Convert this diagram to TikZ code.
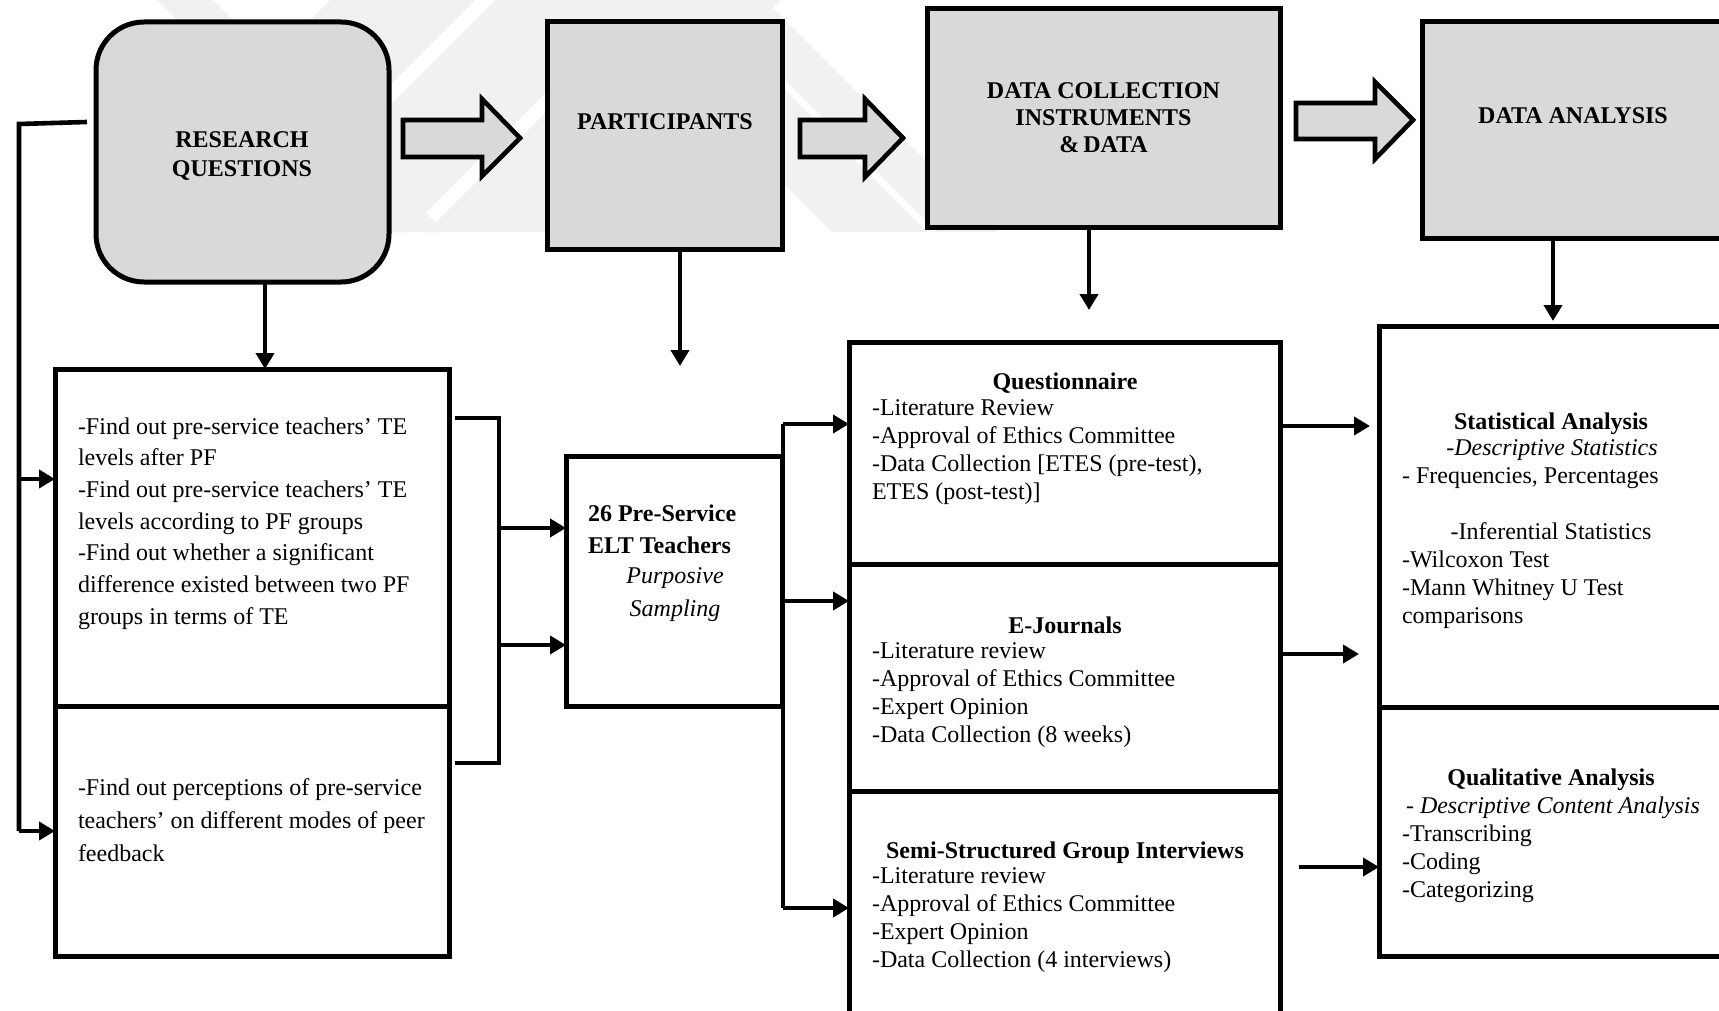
\documentclass[tikz,border=0pt]{standalone}
\usepackage{fontspec}
\setmainfont{Liberation Serif}
\usetikzlibrary{arrows.meta}
\definecolor{boxgray}{HTML}{D9D9D9}
\definecolor{wmgray}{HTML}{F1F1F1}
\begin{document}
\begin{tikzpicture}[x=0.5pt,y=-0.5pt]
\tikzset{
  bx/.style 2 args={draw, line width=2.5pt, inner sep=0pt, outer sep=0pt, anchor=north west,
                    minimum width=#1*0.5pt, minimum height=#2*0.5pt},
  conn/.style={line width=2.3pt},
  arr/.style={line width=2.3pt, -{Triangle[length=8pt,width=9pt]}},
  tx/.style={inner sep=0pt, outer sep=0pt, align=left, font=\fontsize{12}{14}\selectfont},
  hd/.style={inner sep=0pt, outer sep=0pt, align=center, font=\fontsize{12}{14}\selectfont\bfseries},
  blk/.style={draw, line width=2.3pt, fill=boxgray, line join=miter},
  wm/.style={fill=wmgray},
}
\useasboundingbox (0,0) rectangle (1719,1011);
\clip (0,0) rectangle (1719,1011);
\fill[white] (0,0) rectangle (1719,1011);

% faint watermark
\begin{scope}
\clip (150,0) rectangle (1010,232);
\fill[wm] (157,0) -- (213,0) -- (445,232) -- (389,232) -- cycle;
\fill[wm] (330,0) -- (475,0) -- (243,232) -- (98,232) -- cycle;
\fill[wm] (495,0) -- (638,0) -- (406,232) -- (263,232) -- cycle;
\fill[wm] (658,0) -- (780,0) -- (548,232) -- (426,232) -- cycle;
\fill[wm] (600,0) -- (695,0) -- (927,232) -- (832,232) -- cycle;
\fill[wm] (705,0) -- (765,0) -- (997,232) -- (937,232) -- cycle;
\end{scope}

% top row
\node[bx={293}{260}, fill=boxgray, rounded corners=24pt] (rq) at (96,22) {};
\node[hd, font=\fontsize{12}{14.5}\selectfont\bfseries] (rqT) at (242,156) {RESEARCH\\QUESTIONS};
\node[bx={235}{227}, fill=boxgray] (part) at (547,22) {};
\node[hd] (partT) at (665,122) {PARTICIPANTS};
\node[bx={353}{218}, fill=boxgray, align=center,
      font=\fontsize{12}{13.5}\selectfont\bfseries] (dci) at (927,9) {DATA COLLECTION\\INSTRUMENTS\\\&\,DATA};
\node[bx={330}{216}, fill=boxgray] (da) at (1422,22) {};
\node[hd] (daT) at (1573,116) {DATA ANALYSIS};

% block arrows
\draw[blk] (403,120) -- (482,120) -- (482,99) -- (520,138) -- (482,176) -- (482,157) -- (403,157) -- cycle;
\draw[blk] (800,120) -- (865,120) -- (865,99) -- (903,138) -- (865,177) -- (865,157) -- (800,157) -- cycle;
\draw[blk] (1296,103) -- (1375,103) -- (1375,82) -- (1413,120) -- (1375,159) -- (1375,139) -- (1296,139) -- cycle;

% lower boxes
\node[bx={394}{337}] (rqd1) at (55,369) {};
\node[bx={394}{250}] (rqd2) at (55,706) {};
\node[bx={216}{250}] (pd) at (566,456) {};
\node[bx={431}{222}] (q) at (849,342) {};
\node[bx={431}{227}] (ej) at (849,564) {};
\node[bx={431}{260}] (ss) at (849,791) {};
\node[bx={380}{381}] (st) at (1379,326) {};
\node[bx={380}{249}] (ql) at (1379,707) {};

% texts of lower boxes
\node[tx, anchor=north west, font=\fontsize{12}{15.83}\selectfont] (rqd1T) at (78,417.6)
  {-Find out pre-service teachers’ TE\\levels after PF\\-Find out pre-service teachers’ TE\\levels according to PF groups\\-Find out whether a significant\\difference existed between two PF\\groups in terms of TE};
\node[tx, anchor=north west, font=\fontsize{12}{16.5}\selectfont] (rqd2T) at (78,778.6)
  {-Find out perceptions of pre-service\\teachers’ on different modes of peer\\feedback};

\node[tx, anchor=north west, font=\fontsize{12}{16}\selectfont\bfseries] (pdT) at (588,504.6)
  {26 Pre-Service\\ELT Teachers};
\node[tx, anchor=north, align=center, font=\fontsize{12}{16.5}\selectfont\itshape] (pdS) at (675,567.6)
  {Purposive\\Sampling};

\node[hd, anchor=north] (qT) at (1065,372.6) {Questionnaire};
\node[tx, anchor=north west] (qL) at (872,399.6)
  {-Literature Review\\-Approval of Ethics Committee\\-Data Collection [ETES (pre-test),\\ETES (post-test)]};
\node[hd, anchor=north] (ejT) at (1065,616.6) {E-Journals};
\node[tx, anchor=north west] (ejL) at (872,642.6)
  {-Literature review\\-Approval of Ethics Committee\\-Expert Opinion\\-Data Collection (8 weeks)};
\node[hd, anchor=north] (ssT) at (1065,841.6) {Semi-Structured Group Interviews};
\node[tx, anchor=north west] (ssL) at (872,867.6)
  {-Literature review\\-Approval of Ethics Committee\\-Expert Opinion\\-Data Collection (4 interviews)};

\node[hd, anchor=north] (stT) at (1551,412.6) {Statistical Analysis};
\node[tx, anchor=north, font=\fontsize{12}{14}\selectfont\itshape] (stD) at (1552,439.6) {-Descriptive Statistics};
\node[tx, anchor=north west] (stF) at (1402,467.6) {- Frequencies, Percentages};
\node[tx, anchor=north] (stI) at (1551,522.6) {-Inferential Statistics};
\node[tx, anchor=north west] (stL) at (1402,550.6) {-Wilcoxon Test\\-Mann Whitney U Test\\comparisons};

\node[hd, anchor=north] (qlT) at (1551,768.6) {Qualitative Analysis};
\node[tx, anchor=north west] (qlD) at (1406,796.6) {- \textit{Descriptive Content Analysis}};
\node[tx, anchor=north west] (qlL) at (1402,824.6) {-Transcribing\\-Coding\\-Categorizing};

% free ends
\coordinate (fbA) at (87,122);
\coordinate (fbB) at (19,124);
\coordinate (rqx) at (265,0);
\coordinate (partEnd) at (680,366);
\coordinate (dciEnd) at (1089,310);
\coordinate (daEnd) at (1553,321);
\coordinate (brT) at (455,418);
\coordinate (brB) at (455,763);
\coordinate (brX) at (499,0);
\coordinate (busT) at (783,424);
\coordinate (busB) at (783,908);
\coordinate (qEnd) at (1370,426);
\coordinate (ejEnd) at (1359,654);
\coordinate (ssStart) at (1299,867);

% connectors
\draw[conn] (fbA) -- (fbB) -- (fbB |- rqd2.west);
\draw[arr] (fbB |- 0,479) -- (rqd1.west |- 0,479);
\draw[arr] (fbB |- rqd2.west) -- (rqd2.west);
\draw[arr] (rq.south -| rqx) -- (rqd1.north -| rqx);
\draw[arr] (part.south -| partEnd) -- (partEnd);
\draw[arr] (dci.south -| dciEnd) -- (dciEnd);
\draw[arr] (da.south -| daEnd) -- (daEnd);

\draw[conn, line join=miter] (brT) -- (brT -| brX) -- (brB -| brX) -- (brB);
\draw[arr] (brX |- 0,528) -- (pd.west |- 0,528);
\draw[arr] (brX |- 0,645) -- (pd.west |- 0,645);

\draw[conn] (busT) -- (busB);
\draw[arr] (busT) -- (q.west |- busT);
\draw[arr] (busT |- 0,601) -- (ej.west |- 0,601);
\draw[arr] (busB) -- (ss.west |- busB);

\draw[arr] (q.east |- qEnd) -- (qEnd);
\draw[arr] (ej.east |- ejEnd) -- (ejEnd);
\draw[arr] (ssStart) -- (ql.west |- ssStart);
\end{tikzpicture}
\end{document}
